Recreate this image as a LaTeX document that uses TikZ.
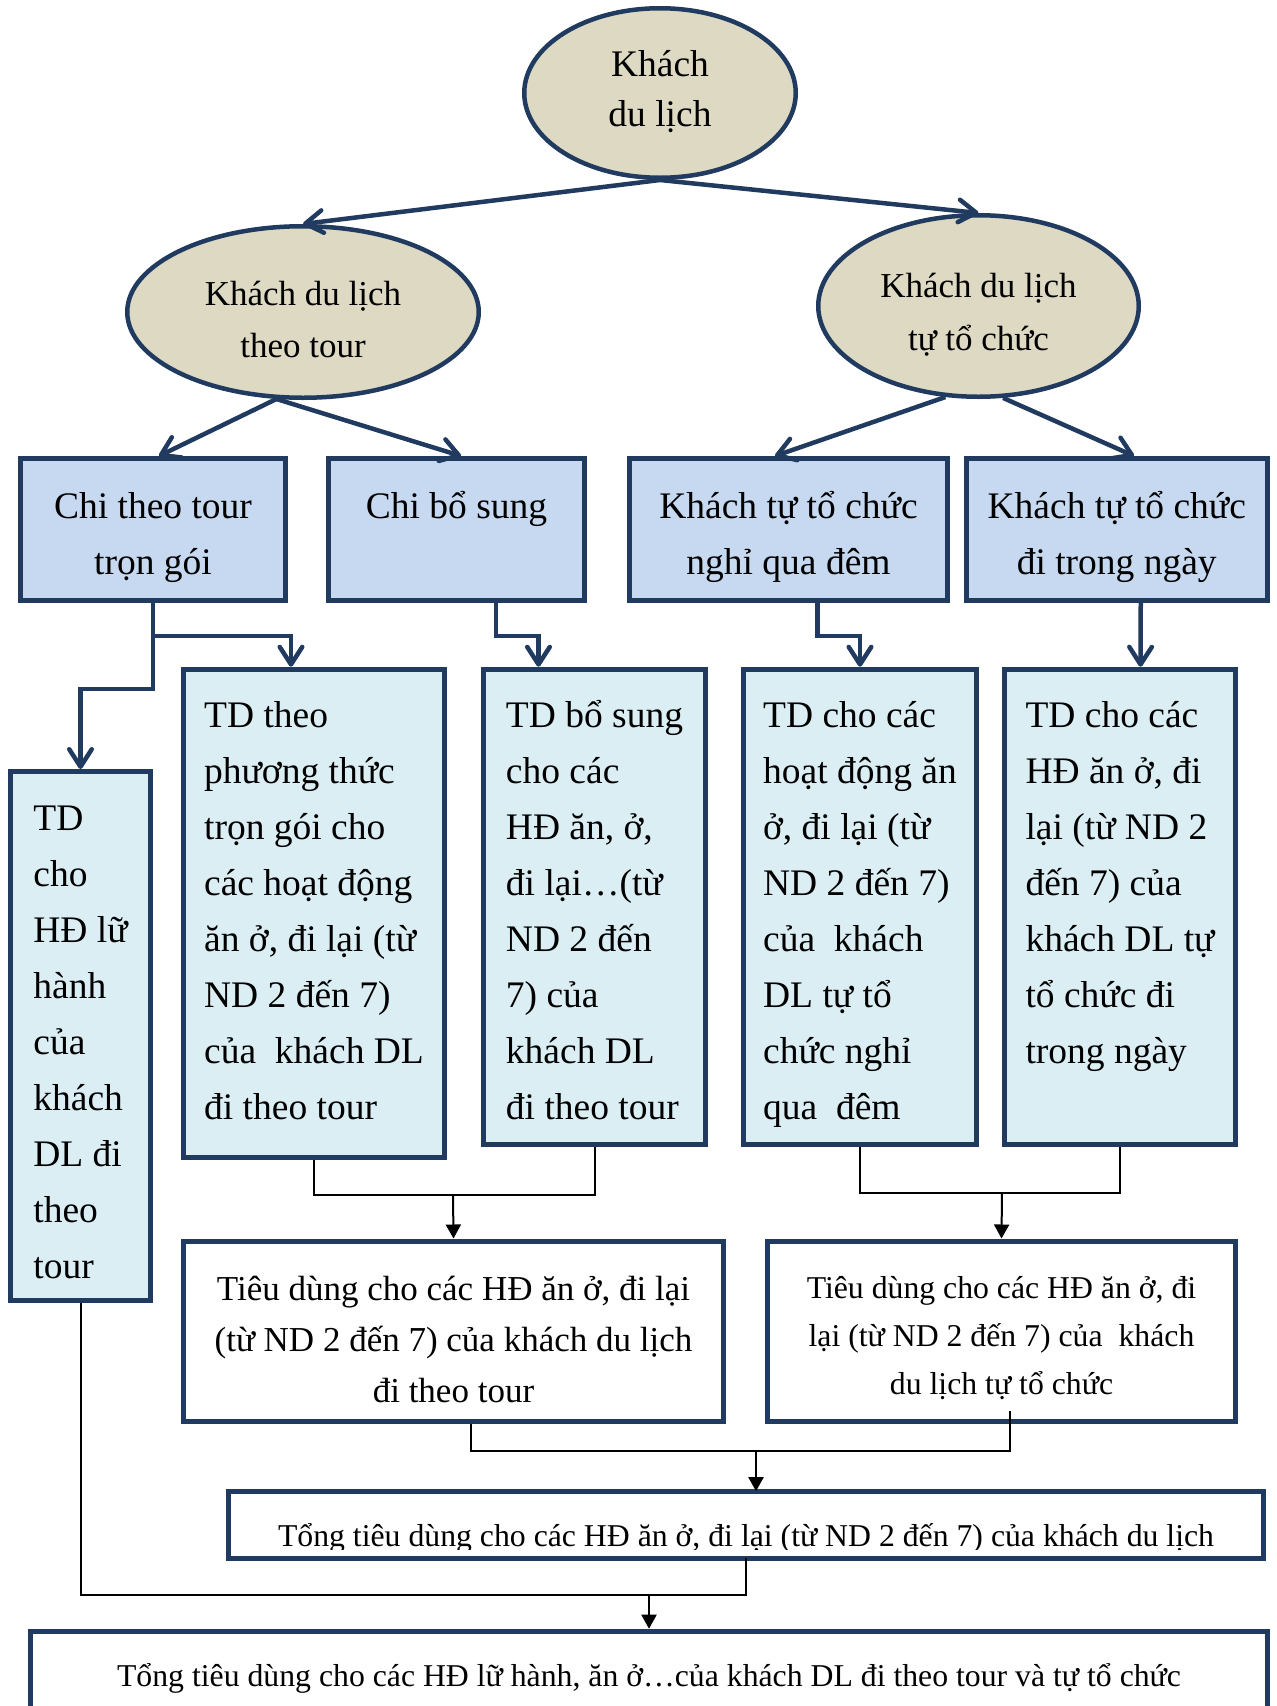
\documentclass[tikz,border=0pt]{standalone}
\usepackage{fontspec}
\setmainfont{Liberation Serif}
\usepackage{tikz}
\usetikzlibrary{arrows.meta, positioning, shapes.geometric, calc}
\definecolor{tikznavy}{HTML}{203B5F}
\definecolor{tikzbeige}{HTML}{DDD9C3}
\definecolor{tikzsky}{HTML}{C6D9F1}
\definecolor{tikzaqua}{HTML}{DBEEF4}

\begin{document}
\begin{tikzpicture}[
    x=0.4pt, y=-0.4pt,
    khach/.style={ellipse, draw=tikznavy, fill=tikzbeige, line width=1.8pt, inner sep=0pt, align=center, text depth=2pt},
    chi/.style={draw=tikznavy, fill=tikzsky, line width=2pt, anchor=north, inner xsep=2pt, inner ysep=0pt, align=center, font=\fontsize{15}{22.4}\selectfont},
    td/.style={draw=tikznavy, fill=tikzaqua, line width=2pt, anchor=north, inner xsep=2pt, inner ysep=0pt, align=left, font=\fontsize{15}{22.4}\selectfont},
    tong/.style={draw=tikznavy, fill=white, line width=2pt, align=center},
    nhanh/.style={draw=tikznavy, line width=1.8pt, -{Straight Barb[length=7pt, width=9pt, round]}},
    gop/.style={draw=black, line width=0.8pt},
    gopmui/.style={gop, -{Triangle[length=5.6pt, width=6pt]}}
  ]
  \useasboundingbox (0,0) rectangle (1276,1706);
  \clip (0,0) rectangle (1276,1706);

  % khach du lich
  \node[khach, minimum width=108.6pt, minimum height=67.8pt, text height=28.4pt, font=\fontsize{15}{19.7}\selectfont] (kdl) at (660,93) {Khách\\du lịch};
  \node[khach, minimum width=140.6pt, minimum height=68.6pt, text height=38.6pt, font=\fontsize{14}{21}\selectfont] (kdlTour) at (303,312) {Khách du lịch\\theo tour};
  \node[khach, minimum width=128.2pt, minimum height=72.6pt, text height=37.2pt, font=\fontsize{14}{21}\selectfont] (kdlTu) at (978.5,306) {Khách du lịch\\tự tổ chức};

  % hang chi
  \node[chi, minimum width=106pt, text height=46.2pt, text depth=10.6pt] (chiTron) at (153,456) {Chi theo tour\\trọn gói};
  \node[chi, minimum width=102.4pt, text height=23.8pt, text depth=33pt] (chiBS) at (456.5,456) {Chi bổ sung};
  \node[chi, minimum width=127.2pt, text height=46.2pt, text depth=10.6pt] (tuDem) at (788.5,456) {Khách tự tổ chức\\nghỉ qua đêm};
  \node[chi, minimum width=120.2pt, text height=46.2pt, text depth=10.6pt] (tuNgay) at (1116.75,456) {Khách tự tổ chức\\đi trong ngày};

  % hang TD
  \node[td, minimum width=56pt, text height=202.7pt, text depth=8.7pt] (tdLH) at (80.5,769) {TD\\cho\\HĐ lữ\\hành\\của\\khách\\DL đi\\theo\\tour};
  \node[td, minimum width=104.4pt, text height=180.3pt, text depth=15pt] (tdTron) at (314,666.7) {TD theo\\phương thức\\trọn gói cho\\các hoạt động\\ăn ở, đi lại (từ\\ND 2 đến 7)\\của\ \ khách DL\\đi theo tour};
  \node[td, minimum width=88.8pt, text height=180.3pt, text depth=9.9pt] (tdBS) at (594.5,666.7) {TD bổ sung\\cho các\\HĐ ăn, ở,\\đi lại…(từ\\ND 2 đến\\7) của\\khách DL\\đi theo tour};
  \node[td, minimum width=93.2pt, text height=180.3pt, text depth=9.9pt] (tdDem) at (860,666.7) {TD cho các\\hoạt động ăn\\ở, đi lại (từ\\ND 2 đến 7)\\của\ \ khách\\DL tự tổ\\chức nghỉ\\qua\ \ đêm};
  \node[td, minimum width=92.4pt, text height=157.9pt, text depth=32.3pt] (tdNgay) at (1120,666.7) {TD cho các\\HĐ ăn ở, đi\\lại (từ ND 2\\đến 7) của\\khách DL tự\\tổ chức đi\\trong ngày};

  % tieu dung
  \node[tong, minimum width=216pt, minimum height=72pt, text height=57.2pt, text depth=0pt, font=\fontsize{14}{20.4}\selectfont] (tdTour) at (453.5,1331) {Tiêu dùng cho các HĐ ăn ở, đi lại\\(từ ND 2 đến 7) của khách du lịch\\đi theo tour};
  \node[tong, minimum width=187.2pt, minimum height=72pt, text height=51pt, text depth=0pt, font=\fontsize{12.7}{19.2}\selectfont] (tdTu) at (1001.5,1331) {Tiêu dùng cho các HĐ ăn ở, đi\\lại (từ ND 2 đến 7) của\ \ khách\\du lịch tự tổ chức};

  \begin{scope}
    \clip (200,1470) rectangle (1276,1549.5);
    \node[tong, anchor=north, outer sep=0pt, minimum width=414pt, inner sep=0pt, text height=22.3pt, text depth=4.6pt, font=\fontsize{12.7}{15}\selectfont] (tongAnO) at (746,1491.2) {Tổng tiêu dùng cho các HĐ ăn ở, đi lại (từ ND 2 đến 7) của khách du lịch};
  \end{scope}
  \draw[tikznavy, line width=2pt] (tongAnO.south west) rectangle (tongAnO.north east);

  \node[tong, anchor=north, minimum width=494.4pt, inner sep=0pt, text height=22.3pt, text depth=40pt, font=\fontsize{12.7}{15}\selectfont] (tongAll) at (649,1628.7) {Tổng tiêu dùng cho các HĐ lữ hành, ăn ở…của khách DL đi theo tour và tự tổ chức};

  % nhanh
  \draw[nhanh] (kdl.south) -- (kdlTour.north);
  \draw[nhanh] (kdl.south) -- (kdlTu.north);
  \draw[nhanh] (kdlTour.253) -- ([xshift=2.4pt]chiTron.north);
  \draw[nhanh] (kdlTour.253) -- ([xshift=1.8pt]chiBS.north);
  \draw[nhanh] (kdlTu.250) -- ([xshift=-5.4pt]tuDem.north);
  \draw[nhanh] (kdlTu.285) -- ([xshift=6.9pt]tuNgay.north);

  \draw[nhanh] (chiTron.south) -- ++(0,33) -| ([xshift=-9.2pt]tdTron.north);
  \draw[nhanh] (chiTron.south) -- ++(0,86) -| (tdLH.north);
  \draw[nhanh] ([xshift=15.8pt]chiBS.south) -- ++(0,33) -| ([xshift=-22.4pt]tdBS.north);
  \draw[nhanh] ([xshift=11.6pt]tuDem.south) -- ++(0,33) -| (tdDem.north);
  \draw[nhanh] ([xshift=9.6pt]tuNgay.south) -- ([xshift=8.2pt]tdNgay.north);

  % gop
  \coordinate (gopTour) at (453,1195);
  \draw[gop] (tdTron.south) |- (gopTour) -| (tdBS.south);
  \draw[gopmui] (gopTour) -- (tdTour.north);
  \coordinate (gopTu) at (1002,1192.5);
  \draw[gop] (tdDem.south) |- (gopTu) -| (tdNgay.south);
  \draw[gopmui] (gopTu) -- (tdTu.north);

  \coordinate (gopAnO) at (756,1451);
  \draw[gop] ([xshift=6.9pt]tdTour.south) |- (gopAnO) -| ([xshift=3.4pt, yshift=5pt]tdTu.south);
  \draw[gopmui] (gopAnO) -- (gopAnO |- tongAnO.north);

  \coordinate (gopAll) at (649,1595);
  \draw[gop] (tdLH.south) |- (gopAll) -| (tongAnO.south);
  \draw[gopmui] (gopAll) -- (tongAll.north);
\end{tikzpicture}
\end{document}
